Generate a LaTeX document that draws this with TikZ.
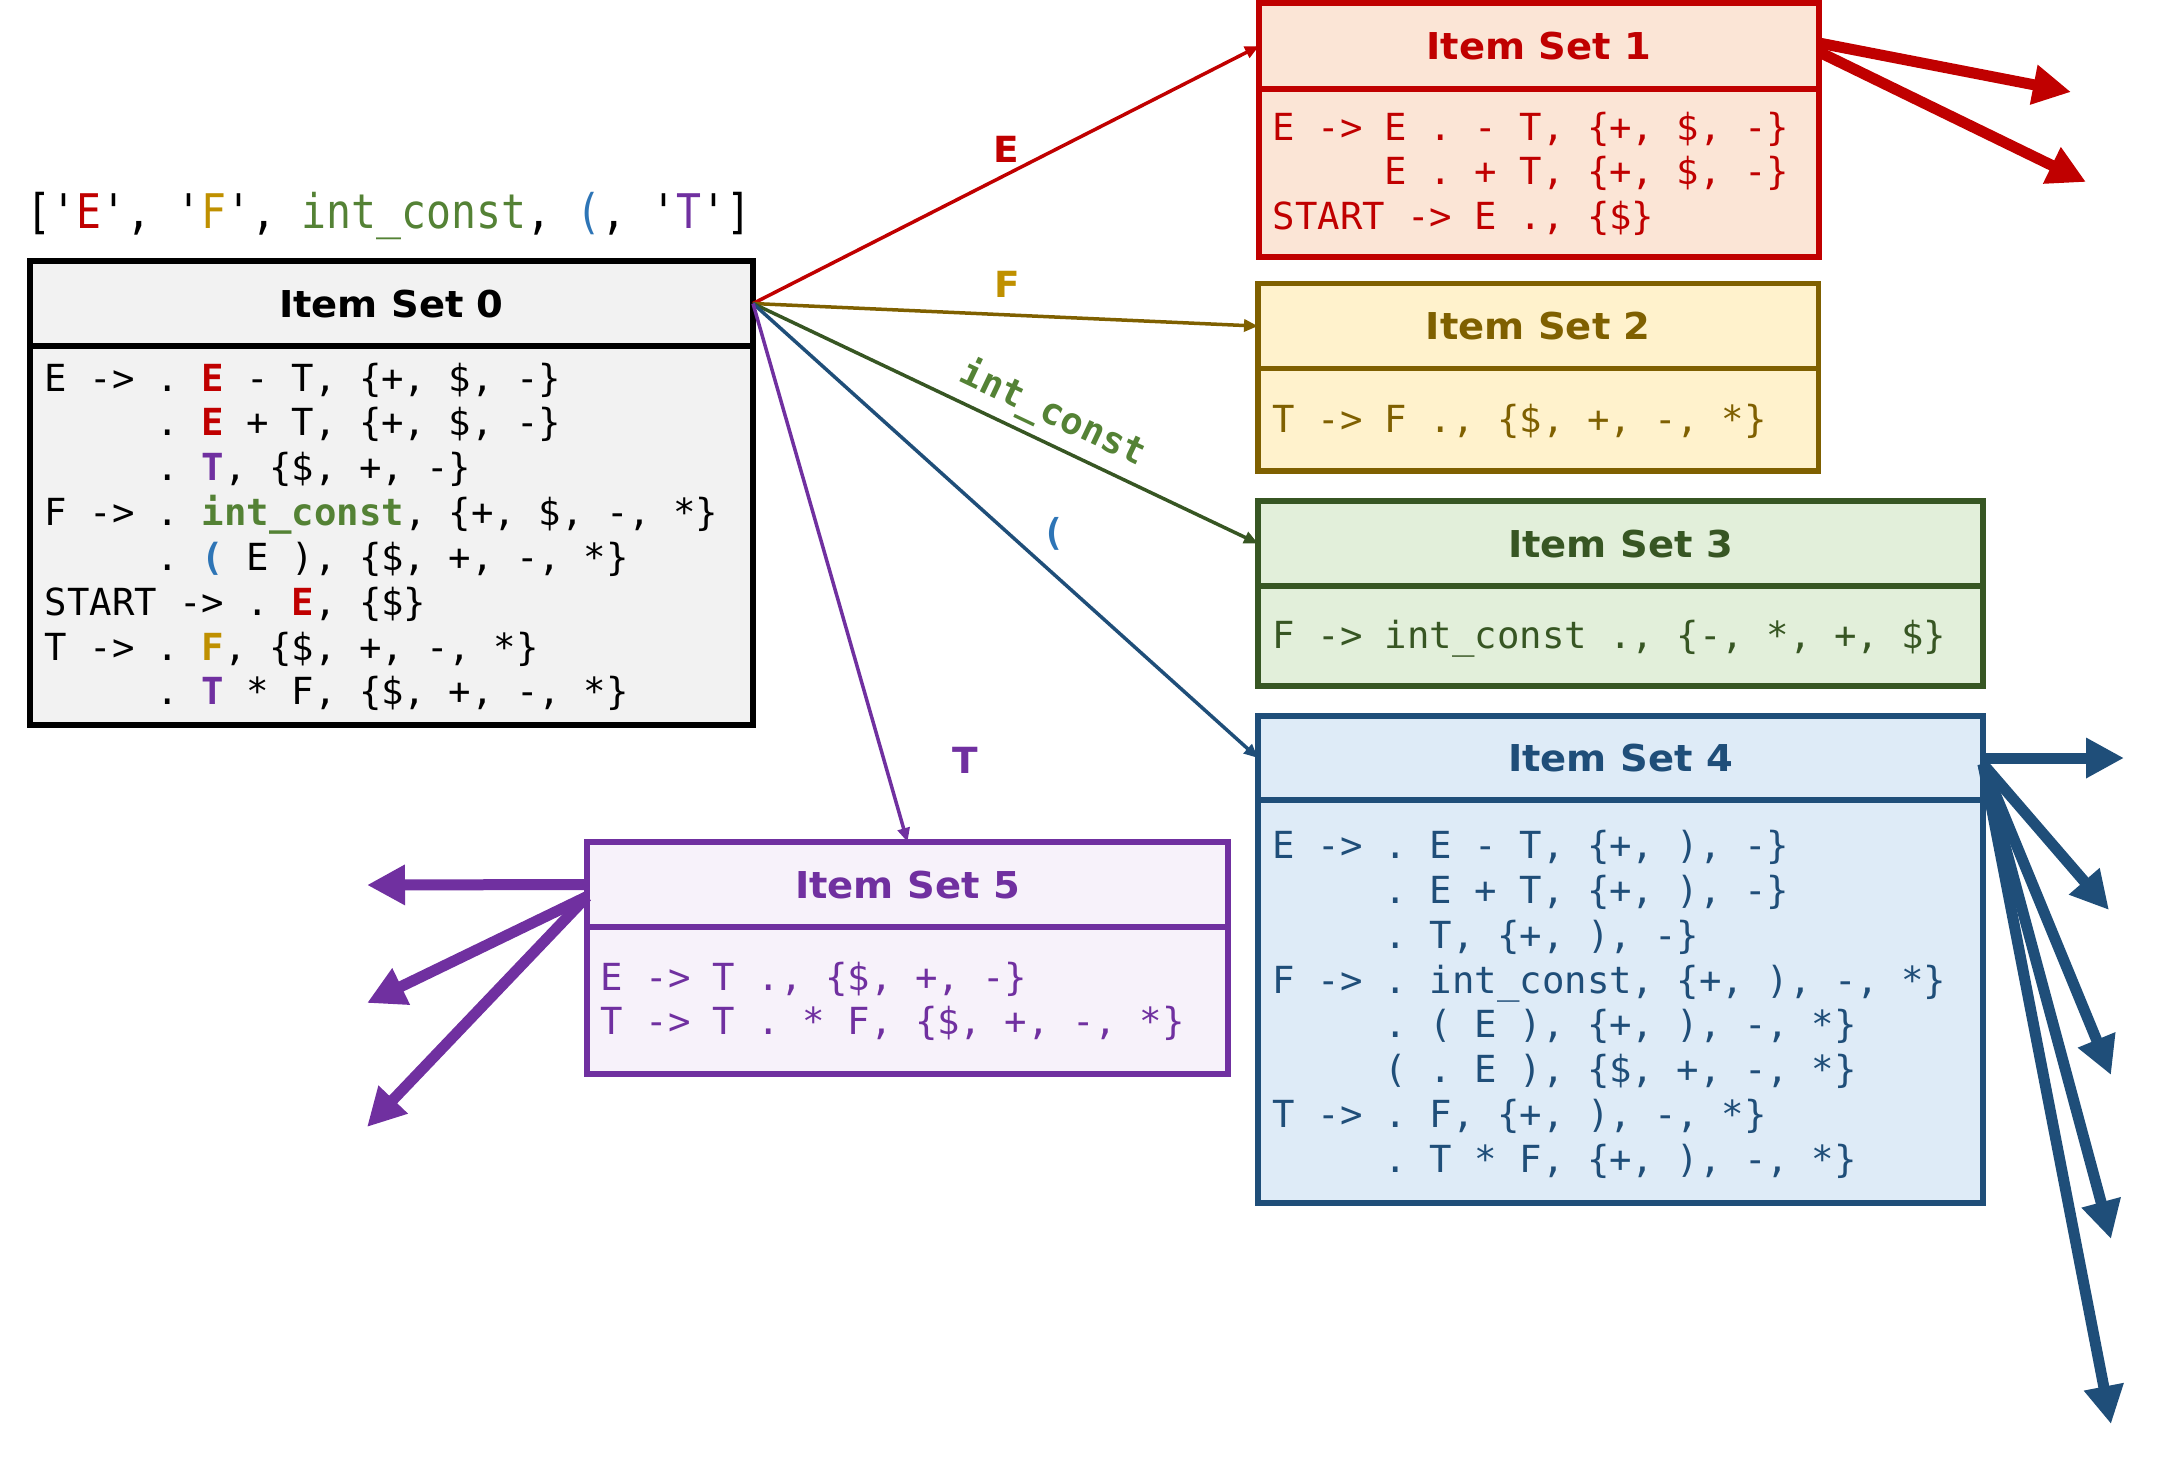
\documentclass[tikz,border=0pt]{standalone}
\usepackage{fontspec}
\setmonofont{DejaVu Sans Mono}
\newfontfamily\titlefont{DejaVu Sans}[FakeStretch=1.04]
\usetikzlibrary{arrows.meta}
\definecolor{cR}{HTML}{C00000}
\definecolor{cRf}{HTML}{FBE5D6}
\definecolor{cY}{HTML}{7F6000}
\definecolor{cYf}{HTML}{FFF2CC}
\definecolor{cYl}{HTML}{BF9000}
\definecolor{cG}{HTML}{375623}
\definecolor{cGf}{HTML}{E2EFDA}
\definecolor{cGl}{HTML}{548235}
\definecolor{cB}{HTML}{1F4E79}
\definecolor{cBf}{HTML}{DEEBF7}
\definecolor{cBl}{HTML}{2E75B6}
\definecolor{cP}{HTML}{7030A0}
\definecolor{cPf}{HTML}{F7F2FA}
\definecolor{cKf}{HTML}{F2F2F2}
\newcommand\hl[2]{{\bfseries\color{#1}#2}}
\newcommand\ind{\phantom{00000}}
\newcommand\codelines[5]{%
  \foreach \cl [count=\k from 0] in {#5} {\node[code, text=#4] (#1\k) at (#2, #3+44.85*\k) {\cl};}}
\begin{document}
\begin{tikzpicture}[x=1pt,y=-1pt,
  box/.style={draw, rectangle, line width=5.5pt, inner sep=0pt, outer sep=0pt, anchor=north west},
  hdr/.style={box, text height=27pt, text depth=0pt, font=\titlefont\bfseries\fontsize{37}{40}\selectfont},
  code/.style={anchor=base west, inner sep=0pt, font=\ttfamily\fontsize{37.3}{45}\selectfont},
  lab/.style={inner sep=0pt, text height=26pt, text depth=0pt, font=\titlefont\bfseries\fontsize{36}{40}\selectfont},
  mlab/.style={inner sep=0pt, text height=26pt, text depth=0pt, font=\ttfamily\bfseries\fontsize{37}{40}\selectfont},
  edge/.style={line width=3.5pt, -{Triangle[length=14pt,width=12pt]}},
  fat/.style={line width=11pt, -{Triangle[length=38pt,width=38pt]}}]
\useasboundingbox (0,0) rectangle (2163,1465);

% top list
\node[anchor=base west, inner sep=0pt, font=\ttfamily\fontsize{41.5}{48}\selectfont] (lst) at (26.5,228.3)
  {\scalebox{1}[1.15]{['{\color{cR}E}', '{\color{cYl}F}', {\color{cGl}int\_const}, {\color{cBl}(}, '{\color{cP}T}']}};

% Item Set 0
\node[hdr, line width=6pt, fill=cKf, minimum width=723.3pt, minimum height=85pt] (h0) at (29.7,261) {Item Set 0};
\node[box, line width=6pt, fill=cKf, minimum width=723.3pt, minimum height=379pt] (b0) at (29.7,346) {};
\codelines{c0}{44.5}{391}{black}{
  {E -> . \hl{cR}{E} - T, \{+, \$, -\}},
  {\ind . \hl{cR}{E} + T, \{+, \$, -\}},
  {\ind . \hl{cP}{T}, \{\$, +, -\}},
  {F -> . \hl{cGl}{int\_const}, \{+, \$, -, *\}},
  {\ind . \hl{cBl}{(} E ), \{\$, +, -, *\}},
  {START -> . \hl{cR}{E}, \{\$\}},
  {T -> . \hl{cYl}{F}, \{\$, +, -, *\}},
  {\ind . \hl{cP}{T} * F, \{\$, +, -, *\}}}

% Item Set 1
\node[hdr, draw=cR, fill=cRf, text=cR, minimum width=560pt, minimum height=86pt] (h1) at (1259,3) {Item Set 1};
\node[box, draw=cR, fill=cRf, minimum width=560pt, minimum height=168pt] (b1) at (1259,89) {};
\codelines{c1}{1272.5}{140}{cR}{
  {E -> E . - T, \{+, \$, -\}},
  {\ind E . + T, \{+, \$, -\}},
  {START -> E ., \{\$\}}}

% Item Set 2
\node[hdr, draw=cY, fill=cYf, text=cY, minimum width=560.5pt, minimum height=85.2pt] (h2) at (1258,283.5) {Item Set 2};
\node[box, draw=cY, fill=cYf, minimum width=560.5pt, minimum height=102.3pt] (b2) at (1258,368.7) {};
\codelines{c2}{1272.5}{432.3}{cY}{{T -> F ., \{\$, +, -, *\}}}

% Item Set 3
\node[hdr, draw=cG, fill=cGf, text=cG, minimum width=725pt, minimum height=85pt] (h3) at (1258,501) {Item Set 3};
\node[box, draw=cG, fill=cGf, minimum width=725pt, minimum height=100pt] (b3) at (1258,586) {};
\codelines{c3}{1272.5}{648.3}{cG}{{F -> int\_const ., \{-, *, +, \$\}}}

% Item Set 4
\node[hdr, draw=cB, fill=cBf, text=cB, minimum width=725pt, minimum height=84pt] (h4) at (1258,716) {Item Set 4};
\node[box, draw=cB, fill=cBf, minimum width=725pt, minimum height=403pt] (b4) at (1258,800) {};
\codelines{c4}{1272.5}{858.5}{cB}{
  {E -> . E - T, \{+, ), -\}},
  {\ind . E + T, \{+, ), -\}},
  {\ind . T, \{+, ), -\}},
  {F -> . int\_const, \{+, ), -, *\}},
  {\ind . ( E ), \{+, ), -, *\}},
  {\ind ( . E ), \{\$, +, -, *\}},
  {T -> . F, \{+, ), -, *\}},
  {\ind . T * F, \{+, ), -, *\}}}

% Item Set 5
\node[hdr, draw=cP, fill=cPf, text=cP, minimum width=641pt, minimum height=85pt] (h5) at (587,842) {Item Set 5};
\node[box, draw=cP, fill=cPf, minimum width=641pt, minimum height=147pt] (b5) at (587,927) {};
\codelines{c5}{600.5}{990}{cP}{
  {E -> T ., \{\$, +, -\}},
  {T -> T . * F, \{\$, +, -, *\}}}

% edges from Item Set 0
\draw[edge, cR] (h0.east) -- (h1.west);
\draw[edge, cY] (h0.east) -- (h2.west);
\draw[edge, cG] (h0.east) -- (h3.west);
\draw[edge, cB] (h0.east) -- (h4.west);
\draw[edge, cP] (h0.east) -- (h5.north);

% edge labels
\node[lab, text=cR] (lE) at (1006.5,149) {E};
\node[lab, text=cYl] (lF) at (1007,284) {F};
\node[mlab, text=cGl, rotate=-25.4] (lI) at (1053.4,411.7) {int\_const};
\node[mlab, text=cBl] (lP) at (1054,532) {(};
\node[lab, text=cP] (lT) at (965,760) {T};

% outgoing arrows
\coordinate (r1) at (2071,92);
\coordinate (r2) at (2086,182);
\coordinate (u1) at (2124,758);
\coordinate (u2) at (2109,910);
\coordinate (u3) at (2111,1075);
\coordinate (u4) at (2111,1239);
\coordinate (u5) at (2111,1424);
\coordinate (p1) at (367,885);
\coordinate (p2) at (367,1003);
\coordinate (p3) at (367,1127);

\draw[fat, cR] ([yshift=3pt]h1.east) -- (r1);
\draw[fat, cR] ([yshift=-6pt]h1.east) -- (r2);
\draw[fat, cB] (h4.east) -- (u1);
\draw[fat, cB] ([yshift=-6pt]h4.east) -- (u2);
\draw[fat, cB] ([yshift=-6pt]h4.east) -- (u3);
\draw[fat, cB] ([yshift=-6pt]h4.east) -- (u4);
\draw[fat, cB] ([yshift=-6pt]h4.east) -- (u5);
\draw[fat, cP] (h5.west) -- (p1);
\draw[fat, cP] ([yshift=-12pt]h5.west) -- (p2);
\draw[fat, cP] ([yshift=-12pt]h5.west) -- (p3);
\end{tikzpicture}
\end{document}
